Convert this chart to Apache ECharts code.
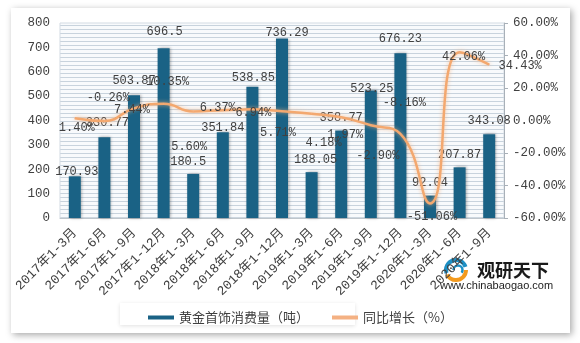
<!DOCTYPE html>
<html><head><meta charset="utf-8">
<script src="https://cdn.jsdelivr.net/npm/echarts@6/dist/echarts.min.js"></script>
<style>
html,body{margin:0;padding:0;background:#fff;}
#wrap{position:relative;width:580px;height:343px;overflow:hidden;}
#card{position:absolute;left:11px;top:8px;width:559px;height:325px;background:#fff;box-shadow:2px 2px 7px rgba(0,0,0,0.35);}
#lbox{position:absolute;left:120px;top:303px;width:235px;height:22px;background:#fff;box-shadow:0 1px 4px rgba(0,0,0,0.12);}
#stripes{position:absolute;left:60px;top:23px;width:444px;height:195px;background-color:#eef3f7;
  background-image:repeating-linear-gradient(180deg,#f8fafc 0px,#f8fafc 2px,#c8d3dd 2px,#c8d3dd 3px,#f8fafc 3px,#f8fafc 4px);}
#chart{position:absolute;left:0;top:0;width:580px;height:343px;}
</style></head>
<body><div id="wrap"><div id="card"></div><div id="lbox"></div><div id="stripes"></div><div id="chart"></div></div>
<script>
const categories = ['2017年1-3月','2017年1-6月','2017年1-9月','2017年1-12月','2018年1-3月','2018年1-6月','2018年1-9月','2018年1-12月','2019年1-3月','2019年1-6月','2019年1-9月','2019年1-12月','2020年1-3月','2020年1-6月','2020年1-9月'];
const consumption = [170.93,330.77,503.87,696.5,180.5,351.84,538.85,736.29,188.05,358.77,523.25,676.23,92.04,207.87,343.08];
const growth = [1.40,-0.26,7.44,10.35,5.60,6.37,6.94,5.71,4.18,1.97,-2.90,-8.16,-51.06,42.06,34.43];
const leftTicks = {min:0, max:800, interval:100};
const rightTicks = {min:-60, max:60, interval:20};

// label layout (style only)
const barLabelOffsets = [[2,6],[3,-4],[0,-3],[1,-5],[-5,-1],[0,7],[1,2],[5,5],[4,-1],[0,-2],[1,9],[0,-3],[0,-2],[0,-2],[0,-3]];
const lineLabelOffsets = [[2,10],[4,-23],[-2,1],[4,-22],[-4,35],[-5,-2],[1,4],[-4,22],[12,29],[4,18],[7,31],[4,-31],[2,13],[4,5],[31,1]];

const numFont = '"Liberation Mono","Noto Sans CJK SC",monospace';
const txtColor = '#404040';

const barData = consumption.map((v,i)=>({value:v,label:{offset:barLabelOffsets[i]}}));
const lineData = growth.map((v,i)=>({value:v,label:{offset:lineLabelOffsets[i]}}));

const chart = echarts.init(document.getElementById('chart'), null, {renderer:'canvas'});
chart.setOption({
  animation:false,
  backgroundColor:'rgba(0,0,0,0)',
  grid:{left:60,right:76,top:23,bottom:125,show:true,backgroundColor:'rgba(0,0,0,0)',borderColor:'#d3dbe3',borderWidth:1},
  legend:{
    left:143, top:306, itemWidth:26, itemHeight:4, itemGap:23,
    textStyle:{color:txtColor,fontSize:13,fontFamily:'"Noto Sans CJK SC",sans-serif'},
    data:[{name:'黄金首饰消费量（吨）',icon:'rect'},{name:'同比增长（%）',icon:'rect'}]
  },
  xAxis:{
    type:'category', data:categories,
    axisLine:{lineStyle:{color:'#bfc6cc'}},
    axisTick:{show:false},
    axisLabel:{rotate:45,interval:0,margin:13,fontSize:13,color:txtColor,fontFamily:numFont}
  },
  yAxis:[
    {type:'value',min:leftTicks.min,max:leftTicks.max,interval:leftTicks.interval,
     axisLine:{show:false},axisTick:{show:false},splitLine:{show:false},
     axisLabel:{fontSize:12.5,color:txtColor,fontFamily:numFont,margin:10}},
    {type:'value',min:rightTicks.min,max:rightTicks.max,interval:rightTicks.interval,position:'right',
     axisLine:{show:true,lineStyle:{color:'#a8b0b8'}},axisTick:{show:true,length:4,lineStyle:{color:'#a8b0b8'}},
     splitLine:{show:false},
     axisLabel:{fontSize:12.5,color:txtColor,fontFamily:numFont,margin:9,formatter:v=>v.toFixed(2)+'%'}}
  ],
  series:[
    {name:'黄金首饰消费量（吨）',type:'bar',yAxisIndex:0,data:barData,barWidth:12,
     itemStyle:{color:'#1a6285',shadowBlur:3,shadowColor:'rgba(0,0,0,0.35)',shadowOffsetX:1,shadowOffsetY:0},
     label:{show:true,position:'top',distance:5,color:txtColor,fontSize:12,fontFamily:numFont}},
    {name:'同比增长（%）',type:'line',yAxisIndex:1,data:lineData,smooth:0.5,
     symbol:'circle',symbolSize:1,showSymbol:true,
     itemStyle:{color:'#f4b183'},
     lineStyle:{color:'#f3a86f',width:2.5,shadowColor:'rgba(246,180,130,0.8)',shadowBlur:4},
     label:{show:true,position:'inside',color:txtColor,fontSize:12,fontFamily:numFont,
            formatter:p=>p.value.toFixed(2)+'%'},
     z:5}
  ],
  graphic:[
    {type:'group',z:100,children:[
      {type:'arc',shape:{cx:456,cy:270,r:10,startAngle:Math.PI*0.9,endAngle:Math.PI*1.9},style:{stroke:'#1d8fc4',lineWidth:4,fill:null}},
      {type:'arc',shape:{cx:456,cy:270,r:10,startAngle:Math.PI*0.0,endAngle:Math.PI*0.85},style:{stroke:'#f39a1e',lineWidth:4,fill:null}},
      {type:'arc',shape:{cx:458,cy:270,r:4.5,startAngle:Math.PI*1.0,endAngle:Math.PI*2.2},style:{stroke:'#1d8fc4',lineWidth:2.5,fill:null}},
      {type:'text',left:477,top:261,style:{text:'观研天下',fill:'#1a1a1a',font:'bold 18px "Noto Sans CJK SC"'}},
      {type:'text',left:440,top:280,style:{text:'www.chinabaogao.com',fill:'#222',font:'11px "Liberation Sans",Arial'}}
    ]}
  ]
});
</script></body></html>
